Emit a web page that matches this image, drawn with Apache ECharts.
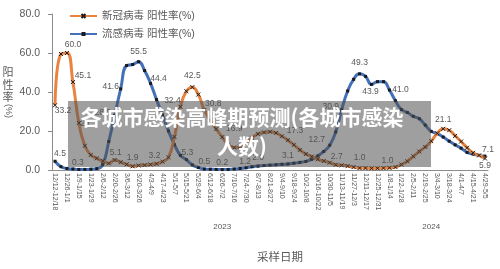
<!DOCTYPE html>
<html>
<head>
<meta charset="utf-8">
<script src="https://cdn.jsdelivr.net/npm/echarts@6/dist/echarts.min.js"></script>
<style>
html, body { margin: 0; padding: 0; background: #fff; }
#main { width: 500px; height: 269px; }
</style>
</head>
<body>
<div id="main"></div>
<script>
// 采样周
var weeks = [
    '12/12-12/18', '12/19-12/25', '12/26-1/1', '1/2-1/8', '1/9-1/15', '1/16-1/22', '1/23-1/29', '1/30-2/5',
    '2/6-2/12', '2/13-2/19', '2/20-2/26', '2/27-3/5', '3/6-3/12', '3/13-3/19', '3/20-3/26', '3/27-4/2',
    '4/3-4/9', '4/10-4/16', '4/17-4/23', '4/24-4/30', '5/1-5/7', '5/8-5/14', '5/15-5/21', '5/22-5/28',
    '5/29-6/4', '6/5-6/11', '6/12-6/18', '6/19-6/25', '6/26-7/2', '7/3-7/9', '7/10-7/16', '7/17-7/23',
    '7/24-7/30', '7/31-8/6', '8/7-8/13', '8/14-8/20', '8/21-8/27', '8/28-9/3', '9/4-9/10', '9/11-9/17',
    '9/18-9/24', '9/25-10/1', '10/2-10/8', '10/9-10/15', '10/16-10/22', '10/23-10/29', '10/30-11/5', '11/6-11/12',
    '11/13-11/19', '11/20-11/26', '11/27-12/3', '12/4-12/10', '12/11-12/17', '12/18-12/24', '12/25-12/31', '1/1-1/7',
    '1/8-1/14', '1/15-1/21', '1/22-1/28', '1/29-2/4', '2/5-2/11', '2/12-2/18', '2/19-2/25', '2/26-3/3',
    '3/4-3/10', '3/11-3/17', '3/18-3/24', '3/25-3/31', '4/1-4/7', '4/8-4/14', '4/15-4/21', '4/22-4/28',
    '4/29-5/5'
];
var years = ['2022', '2023', '2024'];
var yearWeekCounts = [3, 52, 18];

// 阳性率(%)
var covidRate = [
    33.2, 59.5, 60.0, 45.1, 24.1, 12.4, 7.7, 6.0, 4.6, 3.4,
    5.1, 4.0, 2.9, 1.9, 2.3, 2.5, 2.8, 3.2, 4.3, 6.5,
    17.0, 32.4, 40.4, 42.5, 38.7, 30.8, 25.5, 21.0, 16.9, 13.0,
    11.5, 12.0, 14.0, 16.5, 18.5, 19.3, 19.6, 19.0, 17.3, 15.3,
    12.9, 10.3, 8.2, 6.9, 5.5, 4.6, 3.8, 2.7, 2.4, 2.0,
    1.5, 1.0, 1.0, 0.9, 0.9, 1.0, 1.1, 1.5, 2.8, 4.5,
    7.0, 9.5, 11.8, 14.8, 18.8, 21.1, 20.4, 17.5, 14.6, 11.4,
    8.8, 7.5, 5.9
];
var fluRate = [
    4.5, 1.7, 0.8, 0.5, 0.3, 0.3, 0.4, 0.7, 2.8, 14.6,
    28.0, 41.6, 53.6, 54.1, 55.5, 51.0, 44.4, 36.1, 28.3, 20.0,
    13.0, 7.5, 5.3, 2.6, 1.3, 0.5, 0.4, 0.3, 0.2, 0.3,
    0.5, 0.8, 1.2, 1.7, 2.0, 2.3, 2.5, 2.7, 2.9, 3.1,
    3.5, 3.9, 4.4, 5.5, 7.2, 9.5, 12.7, 19.5, 30.9, 40.5,
    46.5, 49.3, 48.0, 43.9, 45.3, 45.3, 41.0, 35.5, 31.0, 29.5,
    27.5, 26.3, 23.0, 19.8, 18.6, 16.9, 14.8, 12.9, 11.2, 9.0,
    8.2, 7.5, 7.1
];

// 数据标签: 下标 -> 相对点的偏移
var covidLabelAt = {
    0: [8, 5], 2: [6, -8], 3: [10, -6], 4: [10, 1], 10: [1, -7], 13: [0, -9], 17: [-2, -8],
    21: [-8, -6], 23: [0, -11], 25: [9, -6], 28: [12, -8], 38: [13, -6], 47: [1, -8],
    51: [0, -10], 55: [4, -7], 65: [0, -9], 72: [0, 7]
};
var fluLabelAt = {
    0: [5, -8], 4: [-1, -7], 10: [-12, -3], 11: [-10, -2], 14: [0, -10], 16: [8, -5], 22: [1, -7],
    25: [0, -7], 28: [0, -7], 32: [-1, -6], 34: [0, -8], 39: [0, -8], 46: [-13, -6], 48: [-11, -3],
    51: [0, -11], 53: [-1, 7], 56: [11, 0], 72: [3, -6]
};

var FONT = '"Liberation Sans", "Noto Sans CJK SC", sans-serif';
var GREY = '#595959';

// 年份分组
var yearCats = [];
var yearStarts = [];
var yearMids = [];
years.forEach(function (y, k) {
    yearStarts.push(yearCats.length);
    if (yearWeekCounts[k] > 4) {
        yearMids.push(yearCats.length + Math.floor((yearWeekCounts[k] - 1) / 2));
    }
    for (var j = 0; j < yearWeekCounts[k]; j++) yearCats.push(y);
});

function buildData(values, labelAt) {
    return values.map(function (v, i) {
        if (!labelAt[i]) return v;
        return { value: v, label: { show: true, position: 'inside', offset: labelAt[i] } };
    });
}

var labelStyle = {
    show: false,
    fontSize: 8.5,
    color: GREY,
    fontFamily: FONT,
    formatter: function (p) { return Number(p.value).toFixed(1); }
};

var myChart = echarts.init(document.getElementById('main'));
var option = {
    animation: false,
    textStyle: { fontFamily: FONT },
    legend: {
        orient: 'vertical',
        left: 64,
        top: 5,
        itemWidth: 27,
        itemHeight: 5,
        itemGap: 6,
        textStyle: { fontSize: 10.5, color: GREY, fontFamily: FONT, lineHeight: 12 }
    },
    grid: { left: 52, right: 12, top: 14, bottom: 99 },
    xAxis: [
        {
            type: 'category',
            data: weeks,
            boundaryGap: true,
            name: '采样日期',
            nameLocation: 'middle',
            nameGap: 82,
            nameTextStyle: { fontSize: 11.5, color: GREY, padding: [0, 0, 0, 20] },
            axisLine: { lineStyle: { color: '#8c8c8c' } },
            axisTick: { interval: 0, length: 3, lineStyle: { color: '#8c8c8c' } },
            axisLabel: { interval: 1, rotate: -90, fontSize: 7, color: GREY, margin: 3 }
        },
        {
            type: 'category',
            data: weeks,
            position: 'bottom',
            axisLine: { show: false },
            axisTick: {
                interval: function (i) { return i % 2 === 1; },
                length: 48,
                lineStyle: { color: '#b0b0b0' }
            },
            axisLabel: { show: false }
        },
        {
            type: 'category',
            data: yearCats,
            position: 'bottom',
            axisLine: { show: false },
            axisTick: {
                interval: function (i) { return yearStarts.indexOf(i) >= 0; },
                length: 60,
                lineStyle: { color: '#8c8c8c' }
            },
            axisLabel: {
                interval: function (i) { return yearMids.indexOf(i) >= 0; },
                fontSize: 8,
                color: GREY,
                margin: 53
            }
        }
    ],
    yAxis: {
        type: 'value',
        min: 0,
        max: 80,
        interval: 20,
        axisLine: { show: true, lineStyle: { color: '#8c8c8c' } },
        axisTick: { show: true, length: 4, lineStyle: { color: '#8c8c8c' } },
        splitLine: { show: false },
        axisLabel: {
            fontSize: 10.5,
            color: GREY,
            margin: 12,
            formatter: function (v) { return v.toFixed(1); }
        }
    },
    graphic: [
        {
            type: 'text', x: 8, y: 66,
            style: { text: '阳\n性\n率', font: '11px "Noto Sans CJK SC"', fill: GREY, align: 'center', lineHeight: 12.5 }
        },
        {
            type: 'text', x: 8, y: 111, rotation: -Math.PI / 2,
            style: { text: '(%)', font: '9px "Liberation Sans"', fill: GREY, align: 'center', verticalAlign: 'middle' }
        },
        {
            type: 'rect', z: 100,
            shape: { x: 68, y: 101, width: 363, height: 66 },
            style: { fill: 'rgba(80,80,80,0.55)' }
        },
        {
            type: 'text', z: 101, x: 242, y: 131.5,
            style: {
                text: '各城市感染高峰期预测(各城市感染\n人数)',
                font: 'bold 21px "Noto Sans CJK SC"',
                fill: '#ffffff',
                align: 'center',
                verticalAlign: 'middle',
                lineHeight: 29
            }
        }
    ],
    series: [
        {
            name: '新冠病毒 阳性率(%)',
            type: 'line',
            data: buildData(covidRate, covidLabelAt),
            smooth: 0.5,
            showAllSymbol: true,
            symbol: 'path://M0,0L10,10M10,0L0,10',
            symbolSize: 4,
            itemStyle: { color: '#E8843F', borderColor: '#1a1a1a', borderWidth: 1 },
            lineStyle: { color: '#E8843F', width: 3 },
            label: labelStyle,
            z: 3
        },
        {
            name: '流感病毒 阳性率(%)',
            type: 'line',
            data: buildData(fluRate, fluLabelAt),
            smooth: 0.5,
            showAllSymbol: true,
            symbol: 'rect',
            symbolSize: 3,
            itemStyle: { color: '#1a1a1a' },
            lineStyle: { color: '#4470B8', width: 3 },
            label: labelStyle,
            z: 2
        }
    ]
};
myChart.setOption(option);
window.onresize = myChart.resize;
</script>
</body>
</html>
